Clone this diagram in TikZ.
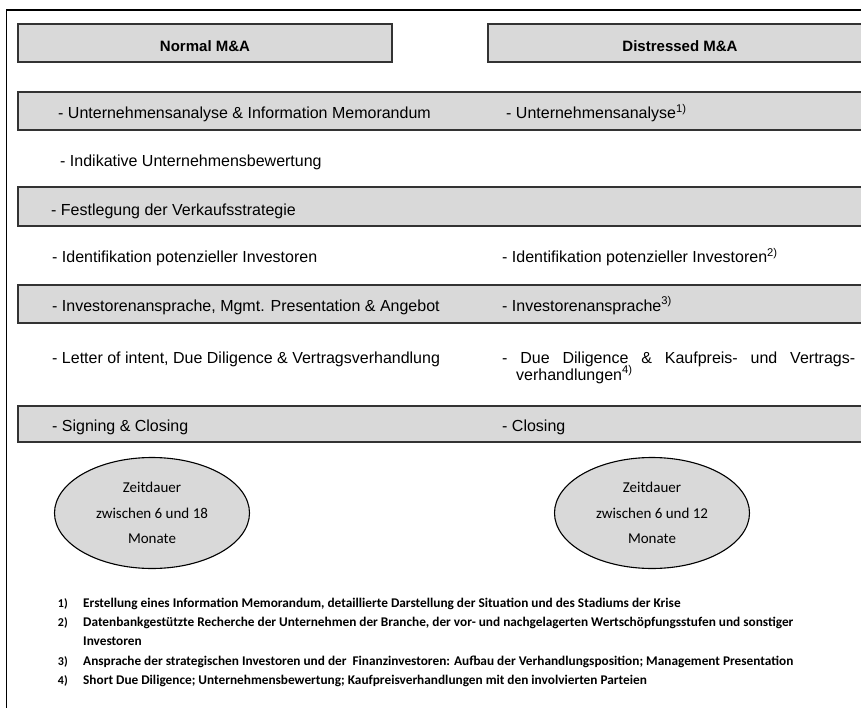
\documentclass[tikz,border=0pt]{standalone}
\usepackage{fontspec}
\setmainfont{Liberation Sans}
\newfontfamily\calfont{Carlito}
\usetikzlibrary{shapes.geometric}
\definecolor{barfill}{HTML}{D9D9D9}
\begin{document}
\begin{tikzpicture}[x=1pt,y=-1pt,
  bar/.style={draw=black!80, line width=1.1pt, fill=barfill},
  item/.style={anchor=base west, inner sep=0pt, font=\fontsize{16}{18}\selectfont},
  head/.style={anchor=base, inner sep=0pt, font=\bfseries\fontsize{15}{18}\selectfont},
  span/.style={ellipse, draw=black, line width=1.1pt, fill=barfill,
    minimum width=195pt, minimum height=111pt, inner sep=0pt, align=center,
    font=\calfont\fontsize{15}{25.5}\selectfont},
  note/.style={anchor=base west, inner sep=0pt, font=\calfont\bfseries\fontsize{13.3}{14}\selectfont},
  num/.style={anchor=base east, inner sep=0pt, font=\calfont\bfseries\fontsize{12}{14}\selectfont}]
\clip (0,0) rectangle (861,708);

% outer frame (left and top edges)
\draw[line width=1.6pt] (6.5,712) -- (6.5,10) -- (866,10);

% column headers
\draw[bar] (18,24) rectangle (392,62);
\draw[bar] (488,24) rectangle (866,62);
\node[head] (hnorm) at (205,52) {Normal M\&A};
\node[head] (hdist) at (680,52) {Distressed M\&A};

% shaded phase bars
\draw[bar] (18,92) rectangle (866,130);
\draw[bar] (18,187) rectangle (866,226);
\draw[bar] (18,285) rectangle (866,323);
\draw[bar] (18,406) rectangle (866,442);

% phases, normal M&A
\node[item] (n1) at (58,119) {- Unternehmensanalyse \& Information Memorandum};
\node[item] (n2) at (60,167) {- Indikative Unternehmensbewertung};
\node[item] (n3) at (51,216) {- Festlegung der Verkaufsstrategie};
\node[item] (n4) at (52,263) {- Identifikation potenzieller Investoren};
\node[item] (n5) at (52,311) {- Investorenansprache, Mgmt. Presentation \& Angebot};
\node[item] (n6) at (52,363) {- Letter of intent, Due Diligence \& Vertragsverhandlung};
\node[item] (n7) at (52,431) {- Signing \& Closing};

% phases, distressed M&A
\node[item] (d1) at (506,119) {- Unternehmensanalyse\textsuperscript{1)}};
\node[item] (d4) at (502,263) {- Identifikation potenzieller Investoren\textsuperscript{2)}};
\node[item] (d5) at (502,311) {- Investorenansprache\textsuperscript{3)}};
\node[item] (d6) at (502,363) {\hbox to 353pt{-\hfil Due\hfil Diligence\hfil \&\hfil Kaufpreis-\hfil und\hfil Vertrags-}};
\node[item] (d6b) at (516,380) {verhandlungen\textsuperscript{4)}};
\node[item] (d7) at (502,431) {- Closing};

% duration
\node[span] (tnorm) at (152,513) {Zeitdauer\\zwischen 6 und 18\\Monate};
\node[span] (tdist) at (652,513) {Zeitdauer\\zwischen 6 und 12\\Monate};

% footnotes
\node[num] (k1) at (68,607) {1)};
\node[note] (f1) at (83,607) {Erstellung eines Information Memorandum, detaillierte Darstellung der Situation und des Stadiums der Krise};
\node[num] (k2) at (68,626) {2)};
\node[note] (f2) at (83,626) {Datenbankgestützte Recherche der Unternehmen der Branche, der vor- und nachgelagerten Wertschöpfungsstufen und sonstiger};
\node[note] (f2b) at (83,645) {Investoren};
\node[num] (k3) at (68,665) {3)};
\node[note] (f3) at (83,665) {Ansprache der strategischen Investoren und der \ Finanzinvestoren: Aufbau der Verhandlungsposition; Management Presentation};
\node[num] (k4) at (68,684) {4)};
\node[note] (f4) at (83,684) {Short Due Diligence; Unternehmensbewertung; Kaufpreisverhandlungen mit den involvierten Parteien};
\end{tikzpicture}
\end{document}
